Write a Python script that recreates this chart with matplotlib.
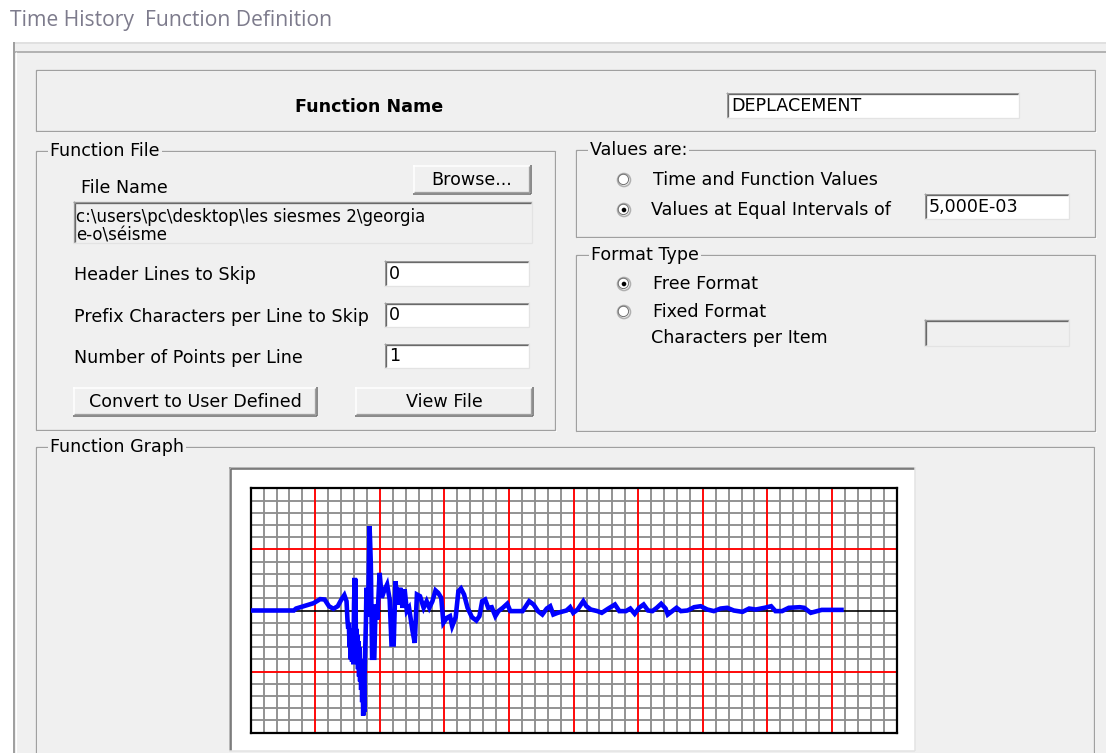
import matplotlib
matplotlib.use("Agg")
import matplotlib.pyplot as plt
from matplotlib.patches import Rectangle, Circle
import numpy as np

# ---------------- data ----------------
# time axis in graph divisions (50 minor divisions across), amplitude in minor divisions (+/-10)
t_div = [0.00, 3.34, 3.51, 4.36, 4.87, 5.38, 5.72, 6.06, 6.40, 6.74, 7.02, 7.25, 7.42,
         7.49, 7.55, 7.60, 7.65, 7.70, 7.75, 7.80, 7.85, 7.90, 7.95, 8.00, 8.05, 8.08, 8.11,
         8.15, 8.19, 8.23, 8.27, 8.31, 8.35, 8.39, 8.43, 8.47, 8.51, 8.55, 8.59, 8.63, 8.67,
         8.71, 8.75, 8.79, 8.83, 8.87, 8.92, 8.96, 9.02, 9.09,
         9.20, 9.24,
         9.30, 9.40, 9.57, 9.67, 9.81, 9.98, 10.15, 10.32, 10.56, 10.76, 10.90, 11.07, 11.21,
         11.38, 11.58, 11.75, 11.92, 12.09, 12.26, 12.53, 12.70, 12.87, 13.11, 13.39, 13.62,
         13.83, 14.07, 14.31, 14.51, 14.75, 14.92, 15.19, 15.43, 15.60, 15.87, 16.08, 16.28,
         16.52, 16.79, 17.13, 17.47, 17.71, 17.92, 18.15, 18.39, 18.66, 18.94, 19.18, 19.52,
         19.86, 20.10, 20.54, 21.05, 21.56, 21.90, 22.24, 22.58, 22.92, 23.19, 23.43, 23.77,
         24.45, 24.73, 24.97, 25.31, 25.75, 25.99, 26.33, 26.84, 27.18, 27.69, 28.20, 28.54,
         29.05, 29.39, 29.73, 30.07, 30.42, 30.76, 31.10, 31.44, 31.78, 32.12, 32.29, 32.63,
         32.97, 33.31, 33.82, 34.33, 34.84, 35.35, 35.86, 36.38, 36.89, 37.40, 38.08, 38.59,
         39.10, 39.78, 40.29, 40.63, 41.14, 41.66, 42.51, 42.85, 43.36, 43.87, 44.21, 45.74]
amp_div = [0.00, 0.00, 0.16, 0.44, 0.60, 0.93, 0.90, 0.35, 0.14, 0.35, 0.90, 1.26, 0.76,
           -0.74, -1.50, -1.00, -3.00, -1.80, -4.00, -1.50, -4.20, -2.00, -4.40, 0.50, 2.67, -1.00, 2.60,
           -3.50, -1.50, -4.20, -2.00, -4.80, -2.50, -5.40, -3.00, -5.80, -4.00, -6.50, -4.50, -7.50, -5.00,
           -8.60, -5.50, -8.30, -4.50, -3.00, -1.00, 1.86, -0.50, -0.05,
           6.90, 5.80,
           3.77, -3.87, -3.87, 0.49, -0.74, 3.08, 1.04, 1.58, 2.13, 0.90, -2.78, -2.78,
           2.40, 0.49, 1.86, 0.22, 1.72, -0.05, 0.22, -1.69, -2.65, 1.31, 1.17, 0.22, 0.76, 0.22,
           0.76, 1.64, 1.45, 1.04, -1.01, -0.60, -0.46, -1.28, -0.55, 1.58, 1.80, 1.31, 0.22,
           -0.55, -0.82, -0.46, 0.76, 0.90, 0.22, 0.27, -0.46, -0.05, 0.22, 0.55, -0.05, -0.05,
           -0.05, 0.76, 0.49, -0.05, -0.33, 0.16, 0.35, -0.33, -0.19, 0.00, 0.27, -0.19, 0.08,
           0.76, 0.35, 0.08, -0.05, -0.19, 0.16, 0.49, -0.05, -0.05, 0.16, -0.27, 0.22, 0.49,
           0.00, -0.05, 0.22, 0.55, 0.16, -0.33, -0.05, 0.22, -0.05, 0.00, 0.27, 0.35, 0.08,
           -0.05, 0.16, 0.22, 0.00, -0.11, 0.16, 0.08, 0.22, 0.35, -0.05, -0.05, 0.22, 0.27,
           0.22, -0.19, -0.05, 0.05, 0.05]

dialog_title = "Time History  Function Definition"
function_name = "DEPLACEMENT"
file_path_lines = ["c:\\users\\pc\\desktop\\les siesmes 2\\georgia", "e-o\\séisme"]
field_labels = ["Header Lines to Skip", "Prefix Characters per Line to Skip", "Number of Points per Line"]
field_values = ["0", "0", "1"]
interval_value = "5,000E-03"

# ---------------- figure ----------------
W, H = 1106, 753
fig = plt.figure(figsize=(W / 100, H / 100), dpi=100)
fig.patch.set_facecolor("white")
bg = fig.add_axes([0, 0, 1, 1])
bg.set_xlim(0, W)
bg.set_ylim(H, 0)
bg.axis("off")

FACE = "#f0f0f0"
UI_FONT = "DejaVu Sans"
FS = 12.6


def px(v):
    return v * 0.72


def hline(x0, x1, y, c, w=1):
    bg.plot([x0, x1], [y, y], color=c, lw=px(w), solid_capstyle="butt")


def vline(x, y0, y1, c, w=1):
    bg.plot([x, x], [y0, y1], color=c, lw=px(w), solid_capstyle="butt")


def label(x, y, s, **kw):
    d = dict(fontsize=FS, family=UI_FONT, color="black", va="center", ha="left")
    d.update(kw)
    bg.text(x, y, s, **d)


def group(x0, y0, x1, y1, title=None, tx=None):
    bg.add_patch(Rectangle((x0 + 1, y0 + 1), x1 - x0, y1 - y0, fill=False, ec="white", lw=px(1)))
    bg.add_patch(Rectangle((x0, y0), x1 - x0, y1 - y0, fill=False, ec="#a0a0a0", lw=px(1.3)))
    if title:
        bg.text(tx, y0, title, fontsize=FS, family=UI_FONT, va="center", ha="left",
                bbox=dict(boxstyle="square,pad=0.12", fc=FACE, ec="none"))


def field(x0, y0, x1, y1, fill="white", text=None):
    bg.add_patch(Rectangle((x0, y0), x1 - x0, y1 - y0, fc=fill, ec="none"))
    hline(x0, x1, y0 + 0.5, "#a0a0a0", 1.3)
    vline(x0 + 0.5, y0, y1, "#a0a0a0", 1.3)
    hline(x0 + 1.5, x1 - 1, y0 + 2, "#696969", 1.3)
    vline(x0 + 2, y0 + 1.5, y1 - 1, "#696969", 1.3)
    hline(x0, x1, y1 - 0.5, "#e3e3e3", 1.3)
    vline(x1 - 0.5, y0, y1, "#e3e3e3", 1.3)
    if text is not None:
        label(x0 + 5, (y0 + y1) / 2 + 0.5, text)


def button(x0, y0, x1, y1, text):
    bg.add_patch(Rectangle((x0, y0), x1 - x0, y1 - y0, fc=FACE, ec="none"))
    hline(x0, x1, y0 + 0.5, "white", 1.5)
    vline(x0 + 0.5, y0, y1, "white", 1.5)
    hline(x0, x1, y1 - 0.5, "#696969", 1.5)
    vline(x1 - 0.5, y0, y1, "#696969", 1.5)
    hline(x0 + 1, x1 - 1, y1 - 2, "#a0a0a0", 1.3)
    vline(x1 - 2, y0 + 1, y1 - 1, "#a0a0a0", 1.3)
    label((x0 + x1) / 2, (y0 + y1) / 2, text, ha="center")


def radio(cx, cy, checked):
    bg.add_patch(Circle((cx, cy), 6.5, fc="white", ec="#b0b0b0", lw=px(1.6)))
    bg.add_patch(Circle((cx - 0.6, cy - 0.6), 5.2, fc="none", ec="#707070", lw=px(1.0)))
    if checked:
        bg.add_patch(Circle((cx, cy), 2.3, fc="black", ec="none"))


# dialog background and outer frame
bg.add_patch(Rectangle((13, 42), W - 13, H - 42, fc=FACE, ec="none"))
hline(13, W, 43, "#dcdcdc", 1.5)
hline(13, W, 52, "#a0a0a0", 1.5)
vline(13.5, 42, H, "#a0a0a0", 2)
vline(15.5, 52, H, "white", 1)

# window caption
bg.text(10, 20, dialog_title, fontsize=15.2, family=["Open Sans", "DejaVu Sans"],
        color="#7d7b8c", va="center", ha="left")

# Function Name box
group(36, 70, 1095, 131)
label(295, 107, "Function Name", fontweight="bold")
field(726, 92, 1019, 118, text=function_name)

# Function File group
group(36, 151, 555, 430, "Function File", 50)
label(81, 188, "File Name")
button(413, 165, 531, 194, "Browse...")
field(73, 201, 532, 243, fill=FACE)
label(76, 217, file_path_lines[0], fontsize=FS - 0.6)
label(76, 235, file_path_lines[1], fontsize=FS - 0.6)
rows_y = [(260, 286), (302, 327), (343, 368)]
for (ya, yb), lab, val in zip(rows_y, field_labels, field_values):
    label(74, (ya + yb) / 2 + 2, lab)
    field(384, ya, 529, yb, text=val)
button(73, 387, 317, 416, "Convert to User Defined")
button(355, 387, 533, 416, "View File")

# Values are group
group(576, 150, 1095, 237, "Values are:", 590)
radio(624, 180, False)
label(653, 180, "Time and Function Values")
radio(624, 210, True)
label(651, 210, "Values at Equal Intervals of")
field(924, 193, 1069, 219, text=interval_value)

# Format Type group
group(576, 255, 1095, 431, "Format Type", 591)
radio(624, 284, True)
label(653, 284, "Free Format")
radio(624, 312, False)
label(653, 312, "Fixed Format")
label(651, 338, "Characters per Item")
field(924, 319, 1069, 346, fill=FACE)

# Function Graph group
group(36, 447, 1094, 800, "Function Graph", 50)
# graph white box (sunken)
bg.add_patch(Rectangle((229, 467), 915 - 229, 751 - 467, fc="white", ec="none"))
hline(229, 915, 467.5, "#a0a0a0", 1.5)
vline(229.5, 467, 751, "#a0a0a0", 1.5)
hline(230.5, 915, 469, "#696969", 1.5)
vline(231, 468.5, 751, "#696969", 1.5)
hline(229, 915, 750.5, "#e3e3e3", 1.5)
vline(914.5, 467, 751, "#e3e3e3", 1.5)

# ---------------- function graph ----------------
L, R, T, B = 250.7, 896.5, 488.3, 732.7
ax = fig.add_axes([L / W, 1 - B / H, (R - L) / W, (B - T) / H])
ax.set_facecolor("white")
ax.set_xlim(0, 50)
ax.set_ylim(-10, 10)
ax.set_xticks([])
ax.set_yticks([])

minor_x = [v for v in range(1, 50) if v % 5]
minor_y = [v for v in range(-9, 10) if v % 5]
ax.vlines(minor_x, -10, 10, colors="#8e8e8e", lw=1.35, zorder=1)
ax.hlines(minor_y, 0, 50, colors="#8e8e8e", lw=1.35, zorder=1)
ax.vlines(range(5, 50, 5), -10, 10, colors="#ff0000", lw=1.35, zorder=2)
ax.hlines([-5, 5], 0, 50, colors="#ff0000", lw=1.35, zorder=2)
ax.axhline(0, color="black", lw=1.2, zorder=3)
for s in ax.spines.values():
    s.set_color("black")
    s.set_linewidth(1.6)

ax.plot(t_div, amp_div, color="#0000ff", lw=3.3, solid_joinstyle="miter", zorder=4)

fig.savefig("out.png", dpi=100, facecolor=fig.get_facecolor())
